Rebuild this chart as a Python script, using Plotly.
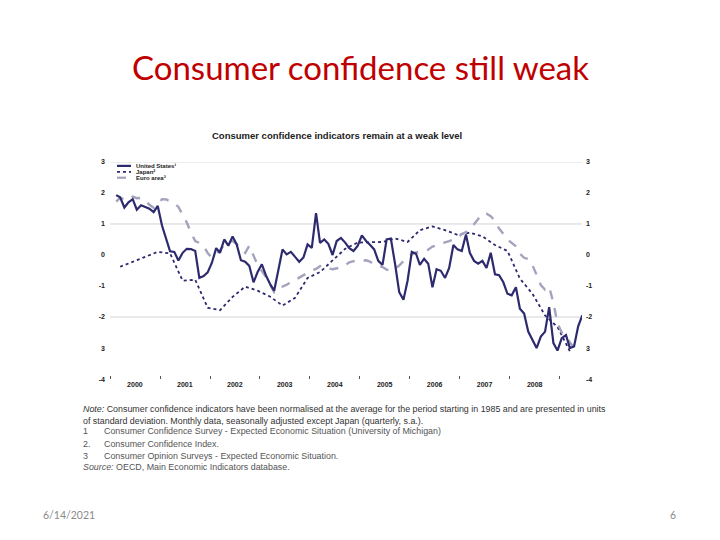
import pandas as pd
import plotly.graph_objects as go

# ---------------- data ----------------
us_start = "2000-01-15"
us_values = [1.93, 1.86, 1.53, 1.70, 1.80, 1.46, 1.60, 1.55, 1.49, 1.38,
             1.58, 0.95, 0.55, 0.12, 0.10, -0.18, 0.07, 0.20, 0.19, 0.13,
             -0.74, -0.68, -0.56, -0.25, 0.22, 0.07, 0.50, 0.30, 0.60, 0.34,
             -0.17, -0.22, -0.35, -0.88, -0.55, -0.30, -0.67, -0.93, -1.15, -0.46,
             0.18, 0.02, 0.10, -0.06, -0.22, -0.08, 0.34, 0.23, 1.35, 0.39,
             0.50, 0.36, 0.00, 0.45, 0.55, 0.40, 0.22, 0.13, 0.29, 0.63,
             0.45, 0.33, 0.18, -0.19, -0.32, 0.50, 0.53, -0.30, -1.20, -1.44,
             -0.83, 0.10, 0.04, -0.32, -0.12, -0.28, -1.04, -0.46, -0.51, -0.74,
             -0.42, 0.32, 0.18, 0.13, 0.66, 0.07, -0.19, -0.28, -0.19, -0.42,
             0.07, -0.62, -0.65, -0.88, -1.25, -1.30, -1.04, -1.73, -1.89, -2.47,
             -2.72, -3.00, -2.63, -2.47, -1.68, -2.84, -3.08, -2.68, -2.58, -3.00,
             -2.95, -2.30, -1.94]

japan_start = "2000-02-15"
japan_values = [-0.38, -0.22, -0.05, 0.10, 0.05, -0.83, -0.80, -1.70, -1.78, -1.35,
                -1.02, -1.15, -1.34, -1.63, -1.38, -0.74, -0.55, -0.18, 0.20, 0.40,
                0.42, 0.42, 0.53, 0.42, 0.80, 0.92, 0.80, 0.65, 0.72, 0.60,
                0.32, 0.13, -0.76, -1.25, -1.95, -2.32, -3.10]

euro_start = "2000-01-15"
euro_values = [1.72, 1.84, 1.80, 1.78, 1.88, 1.83, 1.84, 1.75, 1.62, 1.52,
               1.62, 1.80, 1.79, 1.73, 1.66, 1.55, 1.28, 1.05, 0.72, 0.45,
               0.39, 0.30, 0.06, -0.08, 0.02, 0.18, 0.32, 0.40, 0.45, 0.35,
               0.18, 0.07, 0.30, -0.02, -0.32, -0.52, -0.72, -0.95, -1.20, -1.05,
               -1.02, -0.96, -0.88, -0.79, -0.73, -0.66, -0.57, -0.50, -0.45, -0.36,
               -0.35, -0.43, -0.46, -0.42, -0.40, -0.33, -0.24, -0.20, -0.19, -0.16,
               -0.17, -0.21, -0.30, -0.35, -0.39, -0.47, -0.50, -0.44, -0.34, -0.20,
               -0.10, 0.02, 0.08, 0.11, 0.13, 0.17, 0.27, 0.31, 0.36, 0.41,
               0.45, 0.50, 0.54, 0.68, 0.74, 0.86, 0.99, 1.16, 1.33, 1.33,
               1.25, 1.10, 0.85, 0.68, 0.50, 0.39, 0.28, 0.04, -0.09, -0.13,
               -0.33, -0.64, -0.97, -1.12, -1.02, -1.55, -2.20, -2.50, -2.60, -2.82,
               -2.98, -2.76]

year_labels = ["2000", "2001", "2002", "2003", "2004", "2005", "2006", "2007", "2008"]
y_tickvals = [-4, -3, -2, -1, 0, 1, 2, 3]
y_ticktext = ["-4", "3", "-2", "-1", "0", "1", "2", "3"]
grid_levels = [3, 1, -2]

series_names = ["United States\u00b9", "Japan\u00b2", "Euro area\u00b3"]

note_lines = [
    "<i>Note:</i> Consumer confidence indicators have been normalised at the average for the period starting in 1985 and are presented in units",
    "of standard deviation. Monthly data, seasonally adjusted except Japan (quarterly, s.a.).",
]
footnotes = [
    ("1", "Consumer Confidence Survey - Expected Economic Situation (University of Michigan)"),
    ("2.", "Consumer Confidence Index."),
    ("3", "Consumer Opinion Surveys - Expected Economic Situation."),
]
source_line = "<i>Source:</i> OECD, Main Economic Indicators database."

# ---------------- build ----------------
us_x = pd.date_range(us_start, periods=len(us_values), freq="MS") + pd.Timedelta(days=14)
jp_x = pd.date_range(japan_start, periods=len(japan_values), freq="3MS") + pd.Timedelta(days=14)
eu_x = pd.date_range(euro_start, periods=len(euro_values), freq="MS") + pd.Timedelta(days=14)

NAVY = "#2d2a6e"
GREY = "#a3a3bd"

fig = go.Figure()
fig.add_trace(go.Scatter(x=jp_x, y=japan_values, mode="lines", name=series_names[1],
                         line=dict(color=NAVY, width=1.8, dash="dot")))
fig.add_trace(go.Scatter(x=eu_x, y=euro_values, mode="lines", name=series_names[2],
                         line=dict(color=GREY, width=2.4, dash="dash")))
fig.add_trace(go.Scatter(x=us_x, y=us_values, mode="lines", name=series_names[0],
                         line=dict(color=NAVY, width=2.2)))
fig.add_trace(go.Scatter(x=[None], y=[None], yaxis="y2", showlegend=False, hoverinfo="skip"))

for lv in grid_levels:
    fig.add_hline(y=lv, line=dict(color="#d4d4d4", width=1), layer="below")

xd = [110 / 720, 582 / 720]
yd = [1 - 380 / 540, 1 - 160 / 540]

tick_font = dict(family="Liberation Sans, Arial", size=7, color="#222")
y_ticktext_b = [f"<b>{t}</b>" for t in y_ticktext]

fig.update_layout(
    width=720, height=540,
    margin=dict(l=0, r=0, t=0, b=0),
    paper_bgcolor="white", plot_bgcolor="white",
    showlegend=False,
    xaxis=dict(domain=xd, type="date", range=["2000-01-01", "2009-06-12"],
               tickvals=[f"{y}-07-01" for y in year_labels],
               ticktext=[f"<b>{y}</b>" for y in year_labels],
               ticks="", showgrid=False, zeroline=False, showline=False,
               ticklabelstandoff=0,
               tickfont=tick_font,
               minor=dict(tickvals=[f"{y}-01-01" for y in range(2000, 2010)],
                          ticks="inside", ticklen=3, tickcolor="#555", showgrid=False)),
    yaxis=dict(domain=yd, range=[-4, 3], tickvals=y_tickvals, ticktext=y_ticktext_b,
               showgrid=False, zeroline=False, showline=False, ticks="",
               ticklabelstandoff=4, tickfont=tick_font),
    yaxis2=dict(overlaying="y", side="right", range=[-4, 3], tickvals=y_tickvals,
                ticktext=y_ticktext_b, showgrid=False, zeroline=False, showline=False,
                ticks="", ticklabelstandoff=3, tickfont=tick_font),
)


def px_anno(text, x, y, size, color="#222", family="Liberation Sans, Arial", xanchor="left"):
    return dict(text=text, x=x / 720, y=1 - y / 540, xref="paper", yref="paper",
                xanchor=xanchor, yanchor="middle", align="left", showarrow=False,
                font=dict(family=family, size=size, color=color))


annos = []
annos.append(px_anno("Consumer confidence still weak", 360, 64, 33, "#c00000",
                     "Lato, Open Sans", "center"))
annos.append(px_anno("<b>Consumer confidence indicators remain at a weak level</b>",
                     337, 133, 9.5, "#222", xanchor="center"))

# manual legend
leg_rows = [(series_names[0], NAVY, "solid", 2.2, 164),
            (series_names[1], NAVY, "dot", 1.8, 170),
            (series_names[2], GREY, "dash", 2.2, 176)]
for name, col, dash, w, py in leg_rows:
    fig.add_shape(type="line", xref="paper", yref="paper",
                  x0=117 / 720, x1=131 / 720, y0=1 - py / 540, y1=1 - py / 540,
                  line=dict(color=col, width=w, dash=dash))
    annos.append(px_anno(f"<b>{name}</b>", 134, py, 6))

# notes
annos.append(px_anno("<br>".join(note_lines), 81, 416, 8.9, "#333"))
for (num, txt), py in zip(footnotes, [433, 446, 458]):
    annos.append(px_anno(num, 81, py, 8.9, "#555"))
    annos.append(px_anno(txt, 102, py, 8.9, "#555"))
annos.append(px_anno(source_line, 81, 469, 8.9, "#555"))

# footer
annos.append(px_anno("6/14/2021", 41, 518, 10.5, "#8a8a8a", "Lato, Open Sans"))
annos.append(px_anno("6", 678, 518, 10.5, "#8a8a8a", "Lato, Open Sans", "right"))

fig.update_layout(annotations=annos)
fig.write_html("out.html", config={"displayModeBar": False},
               post_script="document.body.style.margin='0';")
